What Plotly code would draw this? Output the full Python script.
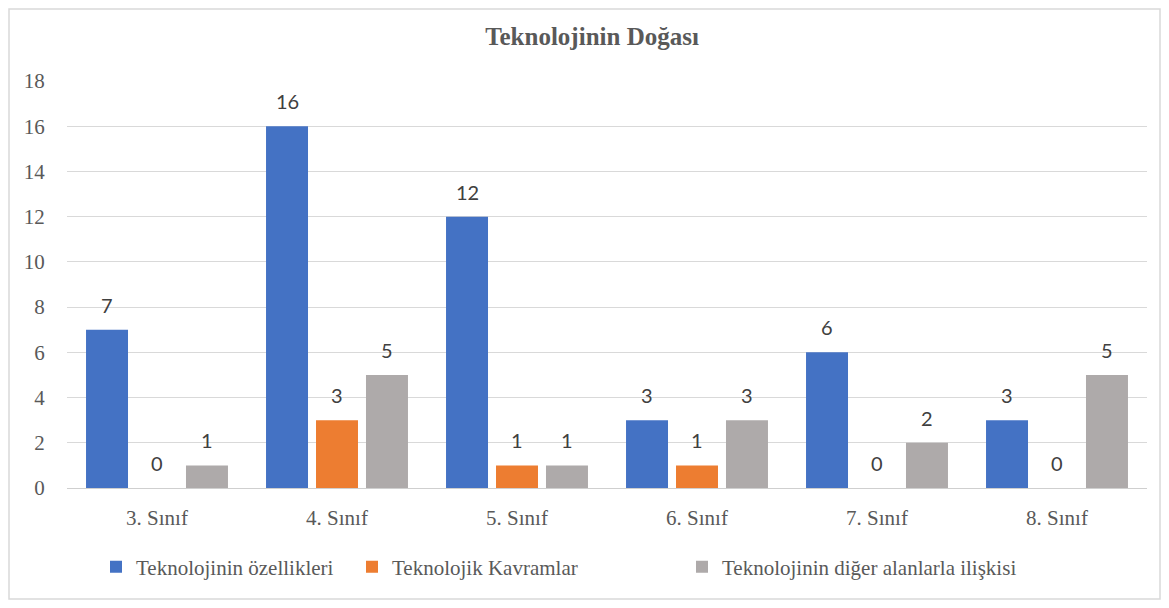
import plotly.graph_objects as go

categories = ["3. Sınıf", "4. Sınıf", "5. Sınıf", "6. Sınıf", "7. Sınıf", "8. Sınıf"]
series_names = ["Teknolojinin özellikleri", "Teknolojik Kavramlar", "Teknolojinin diğer alanlarla ilişkisi"]
ozellikler = [7, 16, 12, 3, 6, 3]
kavramlar = [0, 3, 1, 1, 0, 0]
iliski = [1, 5, 1, 3, 2, 5]
y_ticks = [0, 2, 4, 6, 8, 10, 12, 14, 16, 18]

series_values = [ozellikler, kavramlar, iliski]
colors = ["#4472C4", "#ED7D31", "#AEAAAA"]
shifts = [-50, 0, 50]
legend_ids = ["legend", "legend2", "legend3"]
legend_text_left = [136, 392, 722]  # viewport px where each legend label starts

# page body has an 8px margin; figure sized to fit inside the window
OFF = 8
W, H = 1169 - 2 * OFF, 608 - 2 * OFF
ml, mt = 67 - OFF, 81 - OFF
mr = W - (1147 - OFF)
mb = H - (488 - OFF)
pw, ph = W - ml - mr, H - mt - mb

fig = go.Figure()
for name, vals, col, lg in zip(series_names, series_values, colors, legend_ids):
    fig.add_trace(go.Bar(
        x=categories, y=vals, name=name, legend=lg,
        marker=dict(color=col, line=dict(width=0)),
    ))

annotations = []
for vals, sh in zip(series_values, shifts):
    for c, v in zip(categories, vals):
        annotations.append(dict(
            x=c, y=v, xref="x", yref="y", text=str(v), showarrow=False,
            xshift=sh, yshift=25, yanchor="middle",
            font=dict(family="Lato, Carlito, sans-serif", size=20, color="#404040"),
        ))

serif = "Liberation Serif, Times New Roman, serif"

legends = {}
for lg, tx in zip(legend_ids, legend_text_left):
    legends[lg] = dict(
        orientation="h", x=(tx - OFF - 40 - ml) / pw, xanchor="left",
        y=-(567 - 488) / ph, yanchor="middle",
        font=dict(family=serif, size=21, color="#595959"),
        itemwidth=30, bgcolor="rgba(0,0,0,0)",
    )

fig.update_layout(
    width=W, height=H,
    margin=dict(l=ml, r=mr, t=mt, b=mb),
    paper_bgcolor="white", plot_bgcolor="white",
    barmode="group", bargap=0.167, bargroupgap=0.16,
    title=dict(text="<b>Teknolojinin Doğası</b>", x=(592 - OFF) / W, xanchor="center",
               y=1 - (36 - OFF) / H, yanchor="middle", yref="container",
               font=dict(family=serif, size=25, color="#595959")),
    xaxis=dict(showgrid=False, ticks="outside", ticklen=11, tickcolor="rgba(0,0,0,0)",
               tickfont=dict(family=serif, size=21, color="#595959"),
               showline=True, linecolor="#cfcfcf", linewidth=1),
    yaxis=dict(range=[0, 18], tickvals=y_ticks, showgrid=True, gridcolor="#d9d9d9",
               gridwidth=1, zeroline=False, ticks="outside", ticklen=17,
               tickcolor="rgba(0,0,0,0)",
               tickfont=dict(family=serif, size=21, color="#595959")),
    annotations=annotations,
    shapes=[dict(type="rect", xref="paper", yref="paper",
                 x0=(1 - ml) / pw, x1=(W - 1 - ml) / pw,
                 y0=-(H - 1 - mt - ph) / ph, y1=(mt - 1) / ph + 1,
                 line=dict(color="#d9d9d9", width=1.5), fillcolor="rgba(0,0,0,0)",
                 layer="below")],
    showlegend=True,
    **legends,
)

fig.write_html("out.html")
